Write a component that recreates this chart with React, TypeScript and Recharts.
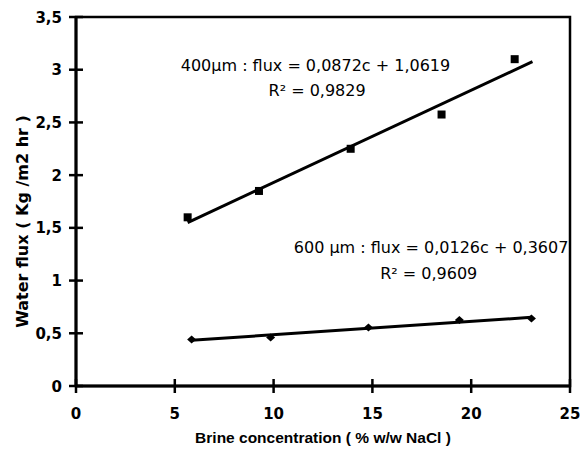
import React from 'react';
import { ScatterChart, Scatter, XAxis, YAxis, ReferenceArea, Label } from 'recharts';

const conc400 = [5.65, 9.26, 13.9, 18.5, 22.2];
const flux400 = [1.6, 1.85, 2.25, 2.575, 3.1];
const conc600 = [5.85, 9.85, 14.8, 19.4, 23.05];
const flux600 = [0.44, 0.46, 0.555, 0.625, 0.64];
const trend400C = [5.65, 23.1];
const trend400Y = [1.55, 3.076];
const trend600C = [5.85, 23.05];
const trend600Y = [0.434, 0.651];
const xTicks = [0, 5, 10, 15, 20, 25];
const yTicks = [0, 0.5, 1, 1.5, 2, 2.5, 3, 3.5];
const notes = [
  { c: 12.12, y: 2.99, text: '400µm : flux = 0,0872c + 1,0619' },
  { c: 12.2, y: 2.755, text: 'R² = 0,9829' },
  { c: 17.97, y: 1.26, text: '600 µm : flux = 0,0126c + 0,3607' },
  { c: 17.85, y: 1.012, text: 'R² = 0,9609' },
];

const pts = (xs: number[], ys: number[]) => xs.map((c, i) => ({ c, y: ys[i] }));
const d400 = pts(conc400, flux400);
const d600 = pts(conc600, flux600);
const t400 = pts(trend400C, trend400Y);
const t600 = pts(trend600C, trend600Y);

const FONT = '"Liberation Sans", Arial, sans-serif';
const WIDE = '"DejaVu Sans", sans-serif';

const Square = (p: any) => (
  <rect x={p.cx - 4} y={p.cy - 4} width={8} height={8} fill="#000" />
);
const Diamond = (p: any) => (
  <path d={`M${p.cx - 4.5},${p.cy} L${p.cx},${p.cy - 4} L${p.cx + 4.5},${p.cy} L${p.cx},${p.cy + 4} Z`} fill="#000" />
);
const NoShape = () => <g />;
const NoteShape = (p: any) => (
  <text x={p.cx} y={p.cy} textAnchor="middle" fontFamily={WIDE} fontSize={16} fill="#000">
    {p.payload.text}
  </text>
);

const XTick = (p: any) => (
  <g>
    <line x1={p.x} x2={p.x} y1={p.y - 7} y2={p.y + 7} stroke="#000" strokeWidth={2.5} />
    <text x={p.x} y={p.y + 33} textAnchor="middle" fontFamily={WIDE} fontWeight="bold" fontSize={15} fill="#000">
      {p.payload.value}
    </text>
  </g>
);
const YTick = (p: any) => (
  <g>
    <line x1={p.x - 7} x2={p.x + 7} y1={p.y} y2={p.y} stroke="#000" strokeWidth={2.5} />
    <text x={p.x - 14} y={p.y + 5.5} textAnchor="end" fontFamily={WIDE} fontWeight="bold" fontSize={15} fill="#000">
      {String(p.payload.value).replace('.', ',')}
    </text>
  </g>
);

const XLabel = (p: any) => {
  const vb = p.viewBox;
  return (
    <text x={vb.x + vb.width / 2} y={vb.y + 57} textAnchor="middle" fontFamily={FONT} fontWeight="bold" fontSize={15.5} fill="#000">
      Brine concentration ( % w/w NaCl )
    </text>
  );
};
const YLabel = (p: any) => {
  const vb = p.viewBox;
  const x = vb.x + 28;
  const y = vb.y + vb.height / 2 + 20;
  return (
    <text x={x} y={y} transform={`rotate(-90 ${x} ${y})`} textAnchor="middle" fontFamily={WIDE} fontWeight="bold" fontSize={16} fill="#000">
      Water flux ( Kg /m2 hr )
    </text>
  );
};

export default function App() {
  return (
    <div style={{ position: 'absolute', left: 0, top: 0, background: '#fff' }}>
      <ScatterChart width={581} height={456} margin={{ top: 17, right: 11, left: 0, bottom: 0 }}>
        <ReferenceArea x1={0} x2={25} y1={0} y2={3.5} fill="none" stroke="#000" strokeWidth={2.5} ifOverflow="visible" />
        <XAxis
          type="number"
          dataKey="c"
          domain={[0, 25]}
          ticks={xTicks}
          height={70}
          tickSize={0}
          tickMargin={0}
          tickLine={false}
          axisLine={{ stroke: '#000', strokeWidth: 3 }}
          tick={<XTick />}
          interval={0}
        >
          <Label content={<XLabel />} />
        </XAxis>
        <YAxis
          type="number"
          dataKey="y"
          domain={[0, 3.5]}
          ticks={yTicks}
          width={76}
          tickSize={0}
          tickMargin={0}
          tickLine={false}
          axisLine={{ stroke: '#000', strokeWidth: 3 }}
          tick={<YTick />}
          interval={0}
        >
          <Label content={<YLabel />} />
        </YAxis>
        <Scatter data={t400} line={{ stroke: '#000', strokeWidth: 3 }} shape={<NoShape />} isAnimationActive={false} />
        <Scatter data={t600} line={{ stroke: '#000', strokeWidth: 3 }} shape={<NoShape />} isAnimationActive={false} />
        <Scatter data={d400} shape={<Square />} isAnimationActive={false} />
        <Scatter data={d600} shape={<Diamond />} isAnimationActive={false} />
        <Scatter data={notes} shape={<NoteShape />} isAnimationActive={false} />
      </ScatterChart>
    </div>
  );
}
